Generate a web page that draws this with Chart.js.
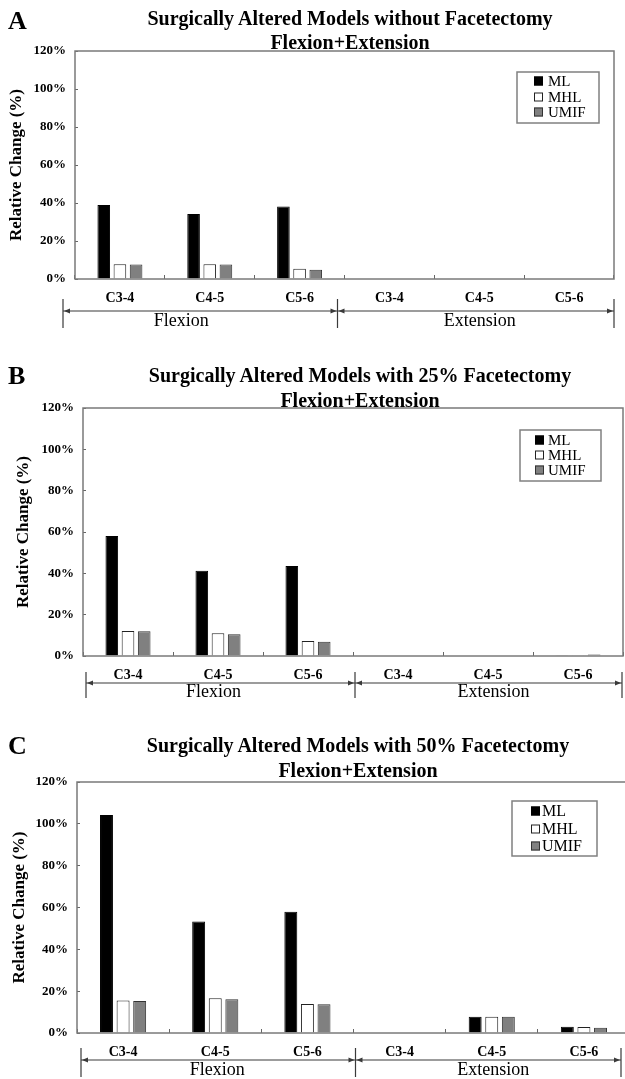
<!DOCTYPE html>
<html>
<head>
<meta charset="utf-8">
<script src="https://cdn.jsdelivr.net/npm/chart.js@4.4.1/dist/chart.umd.min.js"></script>
<style>
  html, body { margin: 0; padding: 0; background: #fff; overflow: hidden; }
  body { width: 625px; height: 1079px; position: relative; font-family: "Liberation Serif", "Times New Roman", serif; }
  .panel { position: absolute; left: 0; }
  .panel canvas { position: absolute; left: 0; top: 0; }
  .letter { position: absolute; left: 8px; font-weight: bold; font-size: 26px; line-height: 26px; }
  .title { position: absolute; width: 520px; text-align: center; font-weight: bold; font-size: 20px; white-space: nowrap; }
</style>
</head>
<body>

<div class="panel" style="top:0;width:625px;height:340px">
  <canvas id="chartA" width="625" height="340"></canvas>
  <div class="letter" style="top:8px">A</div>
  <div class="title" style="left:90px;top:6px;line-height:24px">Surgically Altered Models without Facetectomy<br>Flexion+Extension</div>
</div>

<div class="panel" style="top:340px;width:625px;height:365px">
  <canvas id="chartB" width="625" height="365"></canvas>
  <div class="letter" style="top:23px">B</div>
  <div class="title" style="left:100px;top:23px;line-height:25px">Surgically Altered Models with 25% Facetectomy<br>Flexion+Extension</div>
</div>

<div class="panel" style="top:705px;width:632px;height:374px">
  <canvas id="chartC" width="632" height="374"></canvas>
  <div class="letter" style="top:28px">C</div>
  <div class="title" style="left:98px;top:28px;line-height:25px">Surgically Altered Models with 50% Facetectomy<br>Flexion+Extension</div>
</div>

<script>
// data
const categories = ["C3-4", "C4-5", "C5-6", "C3-4", "C4-5", "C5-6"];
const groups = ["Flexion", "Extension"];
const seriesNames = ["ML", "MHL", "UMIF"];

// A - without facetectomy
const mlA   = [38.9, 34.2, 38.1, 0, 0, 0];
const mhlA  = [7.7, 7.7, 5.4, 0, 0, 0];
const umifA = [7.6, 7.6, 4.9, 0, 0, 0];

// B - 25% facetectomy
const mlB   = [58.1, 41.3, 43.6, 0, 0, 0.4];
const mhlB  = [12.1, 11.0, 7.3, 0, 0, 0.4];
const umifB = [12.0, 10.5, 6.9, 0, 0, 0.7];

// C - 50% facetectomy
const mlC   = [104.2, 53.3, 58.0, 0, 7.8, 3.0];
const mhlC  = [15.5, 16.6, 13.9, 0, 7.8, 2.9];
const umifC = [15.3, 16.1, 13.8, 0, 7.8, 2.5];

const FONT = "'Liberation Serif', 'Times New Roman', serif";
const fills = ["#000000", "#ffffff", "#808080"];
const edges = ["#000000", "#222222", "#333333"];

// plot frame (full box round the chart area)
const framePlugin = {
    id: "frame",
    afterDatasetsDraw(chart) {
        const { ctx, chartArea: a } = chart;
        ctx.save();
        ctx.strokeStyle = "#7a7a7a";
        ctx.lineWidth = 1.5;
        ctx.strokeRect(a.left, a.top, a.right - a.left, a.bottom - a.top);
        ctx.restore();
    }
};

// boxed legend inside the plot
function legendPlugin(L) {
    return {
        id: "boxLegend",
        afterDraw(chart) {
            const ctx = chart.ctx;
            ctx.save();
            ctx.strokeStyle = "#808080";
            ctx.lineWidth = 1.5;
            ctx.strokeRect(L.x, L.y, L.w, L.h);
            ctx.font = L.size + "px " + FONT;
            ctx.textBaseline = "middle";
            ctx.fillStyle = "#000";
            chart.data.datasets.forEach((ds, i) => {
                const cy = L.y + L.rows[i];
                ctx.fillStyle = ds.backgroundColor;
                ctx.fillRect(L.x + L.mx, cy - 4.5, 9, 9);
                ctx.strokeStyle = ds.borderColor;
                ctx.lineWidth = 1;
                ctx.strokeRect(L.x + L.mx + 0.5, cy - 4, 8, 8);
                ctx.fillStyle = "#000";
                ctx.fillText(ds.label, L.x + L.tx, cy + 1);
            });
            ctx.restore();
        }
    };
}

// Flexion / Extension bracket under the axis
function bracketPlugin(B) {
    return {
        id: "bracket",
        afterDraw(chart) {
            const ctx = chart.ctx;
            const a = chart.chartArea;
            const xs = chart.scales.x;
            const left = a.left + B.dl;
            const mid = xs.getPixelForValue(2.5) + B.dm;
            const right = a.right + B.dr;
            ctx.save();
            ctx.strokeStyle = "#3a3a3a";
            ctx.fillStyle = "#3a3a3a";
            ctx.lineWidth = 1.2;
            ctx.beginPath();
            ctx.moveTo(left, B.y); ctx.lineTo(right, B.y);
            [left, mid, right].forEach(x => {
                ctx.moveTo(x, B.t1); ctx.lineTo(x, B.t2);
            });
            ctx.stroke();
            const arrow = (x, dir) => {
                ctx.beginPath();
                ctx.moveTo(x, B.y);
                ctx.lineTo(x - dir * 6, B.y - 2.5);
                ctx.lineTo(x - dir * 6, B.y + 2.5);
                ctx.closePath();
                ctx.fill();
            };
            arrow(left + 1, -1);
            arrow(mid - 1, 1);
            arrow(mid + 1, -1);
            arrow(right - 1, 1);
            ctx.fillStyle = "#000";
            ctx.font = "18px " + FONT;
            ctx.textAlign = "center";
            ctx.textBaseline = "middle";
            ctx.fillText(groups[0], (left + mid) / 2 + B.f1, B.ty);
            ctx.fillText(groups[1], (mid + right) / 2 + B.f2, B.ty);
            ctx.restore();
        }
    };
}

function makeChart(id, ml, mhl, umif, L) {
    const values = [ml, mhl, umif];
    return new Chart(document.getElementById(id), {
        type: "bar",
        data: {
            labels: categories,
            datasets: seriesNames.map((name, i) => ({
                label: name,
                data: values[i],
                backgroundColor: fills[i],
                borderColor: edges[i],
                borderWidth: 1
            }))
        },
        options: {
            responsive: false,
            animation: false,
            layout: { padding: { left: 0, top: L.top, right: L.right, bottom: 0 } },
            datasets: { bar: { categoryPercentage: 0.54, barPercentage: 0.78 } },
            plugins: {
                legend: { display: false },
                tooltip: { enabled: false },
                title: { display: false }
            },
            scales: {
                x: {
                    grid: { offset: true, drawOnChartArea: false, tickLength: -4, color: "#666" },
                    border: { display: false },
                    ticks: {
                        color: "#000",
                        padding: L.xPad,
                        maxRotation: 0,
                        autoSkip: false,
                        font: { family: FONT, size: 14, weight: "bold" }
                    },
                    afterFit: s => { s.height = L.xHeight; }
                },
                y: {
                    min: 0,
                    max: 120,
                    grid: { drawOnChartArea: false, tickLength: -3, color: "#666" },
                    border: { display: false },
                    ticks: {
                        stepSize: 20,
                        color: "#000",
                        padding: 12,
                        callback: v => v + "%",
                        font: { family: FONT, size: 13, weight: "bold" }
                    },
                    title: {
                        display: true,
                        text: "Relative Change (%)",
                        color: "#000",
                        padding: { top: L.yTitlePad, bottom: 0 },
                        font: { family: FONT, size: 17, weight: "bold" }
                    },
                    afterFit: s => { s.width = L.plotLeft; }
                }
            }
        },
        plugins: [framePlugin, legendPlugin(L.legend), bracketPlugin(L.bracket)]
    });
}

makeChart("chartA", mlA, mhlA, umifA, {
    top: 51, right: 11, plotLeft: 75, xHeight: 61, xPad: 15, yTitlePad: 6,
    legend: { x: 517, y: 72, w: 82, h: 51, rows: [9, 25, 40], mx: 17, tx: 31, size: 15 },
    bracket: { dl: -12, dm: -7, dr: 0, y: 311, t1: 299, t2: 328, ty: 321, f1: -19, f2: 4 }
});

makeChart("chartB", mlB, mhlB, umifB, {
    top: 68, right: 2, plotLeft: 83, xHeight: 49, xPad: 15, yTitlePad: 13,
    legend: { x: 520, y: 90, w: 81, h: 51, rows: [10, 25, 40], mx: 15, tx: 28, size: 15 },
    bracket: { dl: 3, dm: 2, dr: -1, y: 343, t1: 332, t2: 358, ty: 352, f1: -7, f2: 5 }
});

makeChart("chartC", mlC, mhlC, umifC, {
    top: 77, right: 2, plotLeft: 77, xHeight: 46, xPad: 15, yTitlePad: 9,
    legend: { x: 512, y: 96, w: 85, h: 55, rows: [10, 28, 45], mx: 19, tx: 30, size: 16 },
    bracket: { dl: 4, dm: 2, dr: -9, y: 355, t1: 343, t2: 372, ty: 365, f1: -1, f2: 5 }
});
</script>
</body>
</html>
